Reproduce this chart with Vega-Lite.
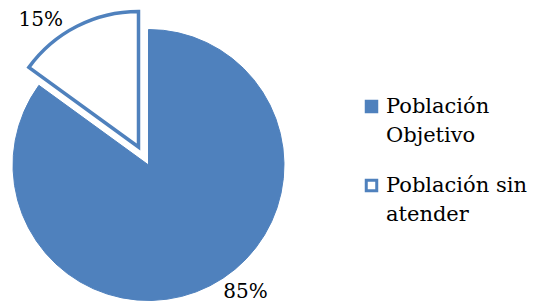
{
  "$schema": "https://vega.github.io/schema/vega-lite/v6.json",
  "autosize": "none",
  "width": 297,
  "height": 276,
  "padding": {"left": 0, "top": 27, "right": 239, "bottom": 0},
  "background": "white",
  "config": {"view": {"stroke": null}, "font": "DejaVu Serif"},
  "data": {"values": [
    {"categoria": "Población Objetivo", "valor": 0.85},
    {"categoria": "Población sin atender", "valor": 0.15}
  ]},
  "encoding": {
    "theta": {"field": "valor", "type": "quantitative", "stack": true},
    "order": {"field": "categoria", "type": "nominal"}
  },
  "layer": [
    {
      "mark": {"type": "arc", "outerRadius": 135.5, "stroke": "#4F81BD", "strokeWidth": 3.5, "xOffset": -10, "yOffset": -18},
      "encoding": {
        "fill": {"field": "categoria", "type": "nominal",
          "scale": {"domain": ["Población Objetivo", "Población sin atender"], "range": ["#4F81BD", "#FFFFFF"]},
          "legend": {
            "title": null, "orient": "none", "legendX": 361, "legendY": 69,
            "symbolType": "square", "symbolSize": 110, "symbolStrokeColor": "#4F81BD", "symbolStrokeWidth": 3,
            "symbolOpacity": 1,
            "labelFont": "DejaVu Serif", "labelFontSize": 21, "labelColor": "#000000", "labelLimit": 200,
            "labelOffset": 4, "rowPadding": 28,
            "encode": {"labels": {"update": {"lineHeight": {"value": 29}}}},
            "labelExpr": "datum.label == 'Población Objetivo' ? ['Población', 'Objetivo'] : ['Población sin', 'atender']"
          }},
        "fillOpacity": {"field": "categoria", "type": "nominal", "legend": null,
          "scale": {"domain": ["Población Objetivo", "Población sin atender"], "range": [0, 1]}},
        "strokeOpacity": {"field": "categoria", "type": "nominal", "legend": null,
          "scale": {"domain": ["Población Objetivo", "Población sin atender"], "range": [0, 1]}}
      }
    },
    {
      "mark": {"type": "arc", "outerRadius": 135.5, "stroke": "#4F81BD", "strokeWidth": 1},
      "encoding": {
        "fill": {"field": "categoria", "type": "nominal"},
        "opacity": {"field": "categoria", "type": "nominal", "legend": null,
          "scale": {"domain": ["Población Objetivo", "Población sin atender"], "range": [1, 0]}}
      }
    },
    {
      "mark": {"type": "text", "radius": 145, "dx": -32, "dy": 2, "xOffset": -10, "yOffset": -18, "font": "DejaVu Serif", "fontSize": 20, "color": "#000000"},
      "encoding": {
        "text": {"field": "valor", "type": "quantitative", "format": ".0%"},
        "fillOpacity": {"field": "categoria", "type": "nominal", "legend": null,
          "scale": {"domain": ["Población Objetivo", "Población sin atender"], "range": [0, 1]}}
      }
    },
    {
      "mark": {"type": "text", "radius": 143, "dx": 32, "font": "DejaVu Serif", "fontSize": 20, "color": "#000000"},
      "encoding": {
        "text": {"field": "valor", "type": "quantitative", "format": ".0%"},
        "opacity": {"field": "categoria", "type": "nominal", "legend": null,
          "scale": {"domain": ["Población Objetivo", "Población sin atender"], "range": [1, 0]}}
      }
    }
  ],
  "resolve": {"scale": {"opacity": "independent", "fillOpacity": "independent", "strokeOpacity": "independent"}}
}
